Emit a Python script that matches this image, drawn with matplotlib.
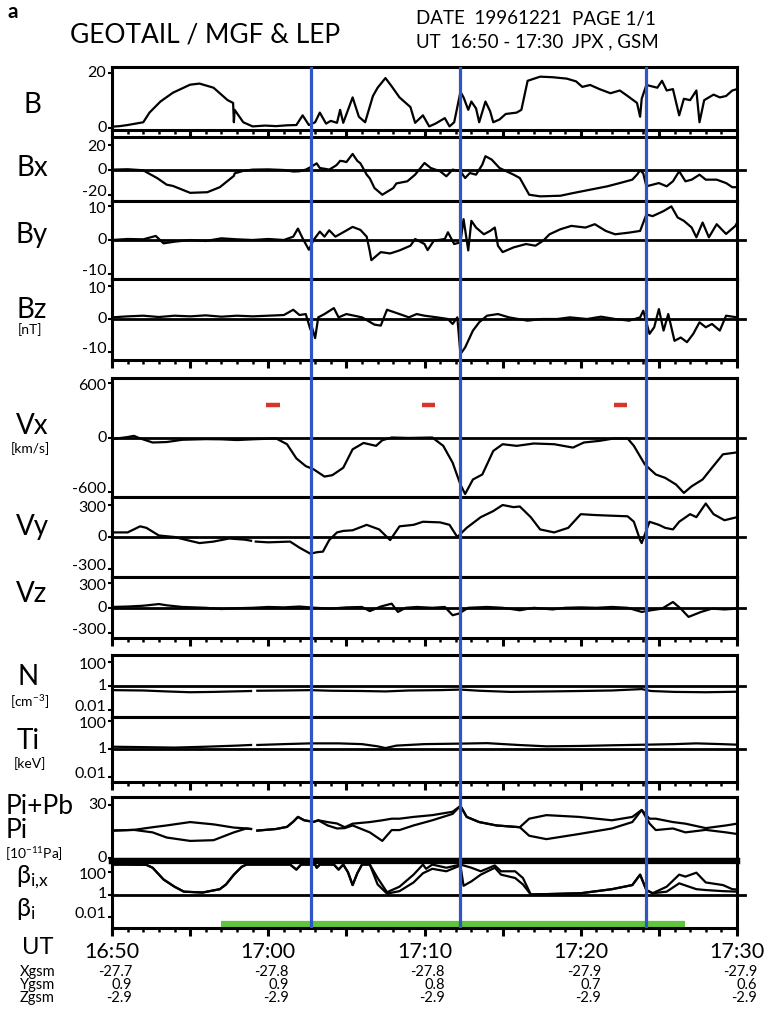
import numpy as np
import matplotlib.pyplot as plt
from matplotlib.ticker import MultipleLocator, FixedLocator, NullFormatter
import matplotlib.transforms as mtransforms

plt.rcParams['font.family'] = ['Lato', 'DejaVu Sans']
plt.rcParams['mathtext.fontset'] = 'custom'
plt.rcParams['mathtext.rm'] = 'Lato'
plt.rcParams['mathtext.it'] = 'Lato'

# time is in minutes after 16:50 UT
b_pts = [(0, 0.4), (0.5, 0.6), (1.0, 1.0), (1.5, 1.5), (2.0, 2.0), (2.4, 5.5), (3.1, 9.5),
         (3.9, 12.7), (5.0, 15.6), (5.6, 16.0), (6.5, 14.5), (7.4, 10.0), (7.75, 9.0),
         (7.8, 2.0), (7.85, 6.5), (8.4, 2.0), (9.0, 0.5), (9.8, 0.8), (10.5, 0.6), (11.2, 0.9),
         (11.8, 1.0), (12.2, 4.5), (12.6, 1.0), (13.0, 2.0), (13.3, 5.5), (13.7, 1.5),
         (14.0, 2.5), (14.4, 1.8), (14.6, 6.5), (14.8, 1.8), (15.4, 11.0), (15.8, 4.0),
         (16.2, 2.0), (16.7, 11.5), (17.0, 14.5), (17.5, 18.0), (17.9, 15.0), (18.4, 11.0),
         (19.1, 7.5), (19.4, 1.8), (19.9, 4.5), (20.3, 0.5), (20.7, 1.5), (21.3, 3.5),
         (21.6, 0.5), (21.9, 2.0), (22.3, 13.0), (22.5, 11.0), (22.8, 6.5), (23.0, 9.5),
         (23.3, 7.0), (23.5, 2.0), (23.9, 9.5), (24.2, 6.0), (24.4, 2.0), (24.8, 3.0),
         (25.2, 5.0), (25.9, 5.5), (26.2, 6.5), (26.6, 17.0), (27.4, 18.5), (28.2, 18.3),
         (29.1, 17.8), (29.7, 16.8), (30.1, 14.8), (30.6, 15.5), (31.2, 14.0), (31.9, 12.5),
         (32.5, 13.5), (33.0, 11.5), (33.6, 9.0), (33.8, 4.0), (33.9, 10.5), (34.2, 15.5),
         (34.9, 14.5), (35.2, 17.0), (35.5, 13.5), (35.9, 14.0), (36.3, 4.5), (36.6, 10.5),
         (37.0, 10.0), (37.4, 13.5), (37.6, 2.0), (37.9, 10.0), (38.5, 12.0), (38.9, 11.0),
         (39.3, 11.5), (39.7, 13.5), (40.0, 14.0)]

bx_pts = [(0, 0), (1, 0.3), (2, -0.5), (2.2, -2), (2.9, -6.8), (3.5, -12), (3.9, -13),
          (5.0, -18.5), (6.1, -18), (6.5, -16), (6.9, -14), (7.8, -5), (7.85, -3), (8.4, -1),
          (9, 0), (10, 0.2), (11, -0.3), (11.6, -1.5), (12.0, -1.3), (12.4, 0), (12.7, 1.9),
          (13.1, 5), (13.3, 1.3), (13.7, 0.5), (13.9, 0), (14.3, 3), (14.4, 4), (14.6, 7),
          (14.8, 6.7), (15.0, 6), (15.4, 12.5), (15.7, 7), (15.9, 5), (16.3, -4), (16.5, -7),
          (16.8, -14.7), (17.3, -20), (18.0, -14.7), (18.2, -11), (18.9, -9.3), (19.4, -4),
          (20.0, 5.3), (20.4, 1.3), (21.0, -1.3), (21.4, -5.3), (21.8, 0), (22.3, -1.3),
          (22.6, -6.7), (22.9, -2.7), (23.3, -4), (23.7, 4), (23.9, 10.7), (24.3, 8),
          (24.8, 1.3), (25.7, -4), (26.1, -6.7), (26.7, -20), (27.4, -21.3), (28.7, -20.8),
          (29.5, -18.7), (30.6, -16), (31.7, -13.3), (32.5, -10.7), (33.3, -8), (33.6, -4),
          (33.8, -0.5), (34.0, -3), (34.2, -13.3), (34.6, -12), (35.0, -10.7), (35.5, -13.3),
          (35.9, -9.3), (36.3, -1.3), (36.7, -9.3), (37.1, -8), (37.6, -4), (38.0, -8),
          (38.7, -8), (39.3, -10.7), (39.7, -14), (40, -14)]

by_pts = [(0, 0), (1, 0.3), (2, 0.2), (2.8, 1.2), (3.3, -1), (4, -0.5), (5, 0), (6, -0.3),
          (7, 0.5), (8, 0.2), (9, 0), (10, 0.3), (11, 0), (11.6, 1), (11.9, 3.4), (12.2, 0.5),
          (12.6, -2.9), (12.9, 0), (13.3, 2.5), (13.6, 1), (13.9, 2.9), (14.3, 1), (14.8, 2.3),
          (15.4, 3.9), (15.9, 3), (16.3, 1), (16.5, -3.4), (16.6, -6), (17.2, -3.6),
          (17.8, -4), (18.4, -3.1), (19.1, -1.7), (19.4, 0.3), (20.0, -1.2), (20.2, -3),
          (20.6, -0.2), (21.3, 0.3), (21.5, 2.3), (21.9, -1.2), (22.3, -0.7), (22.5, 6.2),
          (22.8, -3.1), (23.0, 5.7), (23.3, 3.7), (23.8, 1.7), (24.2, 2.7), (24.5, 3.7),
          (24.7, -1.7), (25.0, -3.6), (25.7, -2.2), (26.5, -1.2), (27.1, -1.7), (27.6, -0.2),
          (28.0, 1.7), (28.7, 3.2), (29.4, 4.2), (30.3, 3.7), (30.9, 4.7), (31.6, 2.7),
          (32.2, 1.7), (33.1, 2.2), (33.8, 2.7), (34.2, 7.6), (34.6, 7.1), (35.3, 8.6),
          (35.8, 10), (36.2, 6.7), (36.6, 5.7), (37.1, 3.7), (37.4, 0.8), (37.8, 5.2),
          (38.2, 0.8), (38.7, 4.7), (39.3, 1.8), (39.9, 4.2), (40, 5.1)]

bz_pts = [(0, 0.5), (1, 0.8), (2, 1), (3, 0.6), (4, 1), (5, 0.8), (6, 1.1), (7, 0.7), (8, 1),
          (9, 0.8), (10, 1), (11, 1.2), (11.6, 2.8), (12.0, 1.2), (12.4, 1.5), (12.7, -3.2),
          (12.8, -2.5), (13.0, -5.8), (13.2, 0.5), (13.6, 1.5), (14.2, 3.3), (14.5, 0.5),
          (15, 1.5), (16, 0.5), (16.8, -1.7), (17.2, -2), (17.6, 2.8), (18.4, 1.5), (19.0, 0.5),
          (19.5, 1.5), (20, 1), (20.8, 0.5), (21.5, 0), (21.8, -1.5), (22.1, 0.5),
          (22.3, -10.6), (22.6, -8.6), (23.1, -3.5), (23.5, -1), (24, 1), (24.7, 1.5),
          (25.4, 0.5), (26.6, -0.5), (27.5, 0), (28.5, 0), (29.3, 0.5), (30.4, 0), (31.3, 0.7),
          (32.2, 0), (33.1, -0.5), (33.8, 0.5), (34.0, 2.5), (34.4, -4.5), (34.7, -2.5),
          (35.0, 3), (35.3, -3.5), (35.6, 1.5), (36.0, -6.6), (36.4, -5.6), (36.8, -7),
          (37.2, -4.5), (37.6, -1), (38.0, -2.5), (38.4, -1.5), (38.9, -3.5), (39.3, 1),
          (40, 0.5)]

vx_pts = [(0, -18), (1.0, 5), (1.4, 18), (1.8, -10), (2.6, -55), (3.5, -50), (4.5, -25),
          (6, -18), (7, -20), (8, -28), (9, -20), (10.5, -10), (11.2, -74), (11.8, -230),
          (12.4, -315), (12.9, -350), (13.6, -430), (14.1, -415), (14.8, -333), (15.4, -130),
          (16.1, -60), (16.9, -92), (17.3, -30), (17.9, 0), (19, -5), (20.5, 0), (21.2, -92),
          (21.8, -277), (22.3, -518), (22.6, -622), (23.1, -462), (23.7, -407), (24.4, -148),
          (25.0, -74), (25.9, -92), (27.0, -66), (28.3, -74), (29.5, -111), (30.2, -55),
          (31.2, -37), (32.1, -11), (33.0, -11), (33.4, -92), (34.1, -296), (34.8, -407),
          (35.4, -444), (36.1, -518), (36.6, -610), (37.1, -537), (37.8, -462), (38.4, -333),
          (39.1, -185), (39.9, -166), (40, -166)]

vy_pts = [(0, 43), (1.0, 43), (1.8, 100), (2.2, 86), (3.0, 14), (4, 0), (4.8, -29), (5.6, -57),
          (6.5, -43), (7.5, -14), (8.5, -25), (8.9, -35), (8.95, np.nan), (9.2, -43), (10, -50),
          (11.4, -43), (12.0, -100), (12.7, -157), (13.1, -143), (13.5, -137), (13.9, -29),
          (14.4, 43), (14.8, 57), (15.4, 63), (16.3, 114), (17.1, 71), (17.8, -29),
          (18.4, 100), (19.3, 114), (19.9, 143), (21.0, 137), (21.6, 114), (22.1, 0),
          (22.7, 86), (23.6, 186), (24.4, 243), (25.0, 300), (25.7, 280), (26.1, 286),
          (26.8, 186), (27.4, 71), (28.3, 43), (29.2, 86), (30.0, 214), (30.9, 206),
          (31.9, 200), (33.0, 194), (33.4, 143), (33.8, -29), (33.9, -57), (34.4, 143),
          (35.0, 114), (35.4, 86), (35.9, 71), (36.3, 143), (37.0, 214), (37.4, 186),
          (38.0, 314), (38.5, 214), (39.2, 157), (40, 186)]

vz_pts = [(0, 10), (1, 15), (2, 25), (3, 45), (3.5, 30), (4.5, 10), (6, 0), (7, -15), (8, -5),
          (9, 0), (10, 10), (11, 5), (12, 15), (13, 0), (14, -10), (15, 5), (16, 10),
          (16.5, -40), (17.2, 15), (17.9, 50), (18.3, -50), (18.8, 0), (19.5, 10), (20.5, 0),
          (21.3, 10), (21.8, -90), (22.2, -70), (22.8, 0), (24, 10), (25, 0), (26.1, -30),
          (27, 0), (28.2, -20), (29, 0), (30, 5), (31, 0), (32, 10), (33, 0), (33.9, -50),
          (34.5, -30), (35.2, -10), (35.9, 70), (36.4, -10), (36.9, -110), (37.7, -50),
          (38.4, -10), (39.2, -20), (40, -10)]

n_pts = [(0, 0.45), (2, 0.42), (3.5, 0.35), (5, 0.3), (6.5, 0.32), (8.9, 0.38), (8.95, np.nan),
         (9.3, 0.4), (11, 0.42), (12.7, 0.45), (14, 0.4), (16, 0.38), (17.5, 0.35), (19, 0.42),
         (21, 0.45), (22.3, 0.5), (23.5, 0.4), (25.5, 0.32), (28, 0.35), (30, 0.38),
         (32, 0.42), (33.9, 0.55), (34.5, 0.38), (36, 0.32), (38, 0.3), (40, 0.33)]

ti_pts = [(0, 1.5), (2, 1.4), (4, 1.3), (6, 1.5), (8, 1.8), (8.9, 2.0), (8.95, np.nan),
          (9.3, 2.0), (11, 2.3), (12.7, 2.6), (14.5, 2.6), (16, 2.3), (17.0, 1.6), (17.5, 1.2),
          (18.2, 1.8), (20, 2.3), (22.3, 2.5), (24, 2.7), (26, 2.0), (27.8, 1.6), (30, 1.7),
          (32, 1.9), (34.2, 2.1), (36, 2.3), (37.4, 2.6), (39, 2.3), (40, 2.1)]

# pressures in 1e-11 Pa
pi_pts = [(0, 15.6), (1.4, 16), (2.6, 14.6), (3.5, 11.7), (5.0, 9.8), (6.5, 10.2), (7.8, 14.6),
          (8.6, 16.8), (8.9, 16.5), (8.95, np.nan), (9.3, 15.6), (10.5, 16.5), (11.2, 17.7),
          (11.6, 20.6), (11.9, 23.3), (12.3, 21.4), (12.9, 20.5), (13.2, 21.4), (13.8, 18.5),
          (14.4, 16.8), (14.9, 17), (15.4, 18.5), (16.5, 14.6), (17.3, 9.8), (17.9, 15.9),
          (18.4, 15.9), (19.3, 18.5), (20.5, 21.4), (21.8, 25), (22.3, 29.5), (22.7, 23.3),
          (23.5, 20.4), (24.6, 18.5), (26.1, 17.5), (26.7, 12.7), (27.8, 10.8), (29.9, 13.7),
          (32.0, 16.8), (33.3, 20.4), (33.9, 27.2), (34.4, 19.6), (34.8, 15.9), (35.9, 16.8),
          (36.7, 14.6), (38.0, 16), (39.3, 14.6), (40, 13.7)]

pipb_pts = [(0, 15.6), (1.4, 16), (2.6, 17.5), (3.5, 18.5), (5.0, 20.4), (6.5, 19.1),
            (7.8, 17.3), (8.6, 16.8), (8.9, 16.5), (8.95, np.nan), (9.3, 15.6), (10.5, 16.5),
            (11.2, 17.7), (11.6, 20.6), (11.9, 23.3), (12.3, 21.4), (12.9, 20.5), (13.2, 21.4),
            (13.8, 20.4), (14.4, 19.6), (14.9, 17.5), (15.4, 19.5), (16.5, 20.4), (17.3, 21.4),
            (17.9, 22.3), (18.4, 22.3), (19.3, 23.3), (20.5, 24.3), (21.8, 26.2), (22.3, 29.5),
            (22.7, 23.3), (23.5, 20.4), (24.6, 18.5), (26.1, 17.5), (26.7, 22.3), (27.8, 24.3),
            (29.9, 23.3), (32.0, 21.4), (33.3, 23.3), (33.9, 27.2), (34.4, 22.3), (34.8, 22.3),
            (35.9, 20.4), (36.7, 19.5), (38.0, 17), (39.3, 18.5), (40, 19.5)]

betax_pts = [(0, 480), (1, 480), (2.2, 450), (2.6, 250), (3.3, 22), (4.0, 5), (4.6, 1.8),
             (5.8, 1.5), (6.9, 3), (7.3, 8), (7.8, 60), (8.3, 300), (8.6, 480), (10, 480),
             (11.4, 480), (11.8, 170), (12.1, 480), (13.0, 480), (13.1, 250), (13.3, 480),
             (14.2, 480), (14.5, 170), (14.8, 480), (15.1, 100), (15.4, 7), (15.7, 80),
             (16.0, 480), (16.5, 480), (17.0, 30), (17.6, 1.6), (18.4, 5), (19.3, 60),
             (19.9, 480), (20.1, 200), (20.5, 480), (21.4, 250), (22.3, 480), (23.0, 250),
             (23.6, 120), (24.5, 400), (24.9, 120), (25.8, 120), (26.3, 30), (26.8, 1),
             (28, 1.1), (30, 1.3), (32, 3), (33.3, 7), (33.8, 60), (34.2, 2.5), (34.6, 1.3),
             (35.5, 5), (36.3, 60), (36.7, 40), (37.4, 90), (38.0, 12), (39.1, 7), (39.7, 3),
             (40, 2.8)]

beta_pts = [(0, 480), (1, 480), (2.2, 450), (2.6, 250), (3.3, 22), (4.0, 5), (4.6, 1.8),
            (5.8, 1.5), (6.9, 3), (7.3, 8), (7.8, 60), (8.3, 300), (8.6, 480), (10, 480),
            (11.4, 480), (11.8, 170), (12.1, 480), (13.0, 480), (13.1, 250), (13.3, 480),
            (14.2, 480), (14.5, 170), (14.8, 480), (15.1, 100), (15.4, 7), (15.7, 80),
            (16.0, 480), (16.5, 480), (17.0, 8), (17.6, 1.2), (18.4, 2), (19.3, 12),
            (19.9, 80), (20.5, 200), (21.4, 120), (22.3, 400), (22.5, 6), (23.0, 15),
            (23.6, 60), (24.5, 250), (24.9, 60), (25.8, 30), (26.3, 8), (26.8, 1), (28, 1.1),
            (30, 1.3), (32, 3), (33.3, 7), (33.8, 60), (34.2, 2.5), (34.6, 1.3), (35.5, 1.8),
            (36.3, 10), (37.4, 3), (38.0, 2.5), (39.1, 2), (40, 1.8)]

event_times = [12.75, 22.25, 34.15]            # blue lines
flow_marks = [10.3, 20.25, 32.55]              # red dashes in Vx
flow_mark_level = 355
green_span = (7.0, 36.7)

ut_labels = ['16:50', '17:00', '17:10', '17:20', '17:30']
xgsm = ['-27.7', '-27.8', '-27.8', '-27.9', '-27.9']
ygsm = ['0.9', '0.9', '0.8', '0.7', '0.6']
zgsm = ['-2.9', '-2.9', '-2.9', '-2.9', '-2.9']

W, H = 768, 1015
X0, X1 = 112, 737
fig = plt.figure(figsize=(W / 100, H / 100), dpi=100)


def box(top, bottom):
    return [X0 / W, 1 - bottom / H, (X1 - X0) / W, (bottom - top) / H]


def ftext(x, y, s, **kw):
    kw.setdefault('va', 'center')
    fig.text(x / W, 1 - y / H, s, **kw)


def split(pts):
    t, v = zip(*pts)
    return np.array(t, float), np.array(v, float)


# panel: top px, bottom px, ylim, ticks, tick labels, reference line, log
panels = {
    'B':    (67, 130, (-0.8, 22), [0, 20], ['0', '20'], None, False),
    'Bx':   (137, 201, (-25, 26), [-20, 0, 20], ['-20', '0', '20'], 0, False),
    'By':   (201, 279, (-11.6, 11.6), [-10, 0, 10], ['-10', '0', '10'], 0, False),
    'Bz':   (279, 360, (-12.4, 12.1), [-10, 0, 10], ['-10', '0', '10'], 0, False),
    'Vx':   (378, 497, (-655, 655), [-600, 0, 600], ['-600', '0', '600'], 0, False),
    'Vy':   (497, 577, (-375, 375), [-300, 0, 300], ['-300', '0', '300'], 0, False),
    'Vz':   (577, 638, (-365, 372), [-300, 0, 300], ['-300', '0', '300'], 0, False),
    'N':    (655, 717, (0.0025, 400), [0.01, 1, 100], ['0.01', '1', '100'], 1, True),
    'Ti':   (717, 782, (0.0045, 200), [0.01, 1, 100], ['0.01', '1', '100'], 1, True),
    'Pi':   (797, 861, (-1.5, 34.5), [0, 30], ['0', '30'], None, False),
    'beta': (861, 928, (1e-3, 1e3), [0.01, 1, 100], ['0.01', '1', '100'], 1, True),
}

series = {
    'B': [b_pts], 'Bx': [bx_pts], 'By': [by_pts], 'Bz': [bz_pts],
    'Vx': [vx_pts], 'Vy': [vy_pts], 'Vz': [vz_pts],
    'N': [n_pts], 'Ti': [ti_pts], 'Pi': [pipb_pts, pi_pts], 'beta': [betax_pts, beta_pts],
}

axes = {}
for name in panels:
    top, bot, ylim, yt, ytl, ref, log = panels[name]
    ax = fig.add_axes(box(top, bot))
    axes[name] = ax
    if log:
        ax.set_yscale('log')
    ax.set_xlim(0, 40)
    ax.set_ylim(*ylim)
    for pts in series[name]:
        t, v = split(pts)
        ax.plot(t, v, color='black', lw=1.6, solid_joinstyle='round')
    if ref is not None:
        ax.axhline(ref, xmin=0, xmax=1.012, color='black', lw=2.0, clip_on=False)
    ax.yaxis.set_major_locator(FixedLocator(yt))
    ax.yaxis.set_minor_locator(FixedLocator([]))
    ax.yaxis.set_major_formatter(NullFormatter())
    ax.yaxis.set_minor_formatter(NullFormatter())
    # y labels drawn by hand so the outer ones can sit slightly inside the panel
    for j, (val, lab) in enumerate(zip(yt, ytl)):
        dy = 0
        if len(yt) == 3 and j == 0:
            dy = 2
        elif len(yt) == 3 and j == 2:
            dy = -2
        ax.annotate(lab, xy=(0, val), xycoords=('axes fraction', 'data'),
                    xytext=(-4, dy), textcoords='offset points',
                    ha='right', va='center', fontsize=11.5)
    ax.xaxis.set_major_locator(MultipleLocator(5))
    ax.xaxis.set_minor_locator(MultipleLocator(1))
    ax.tick_params(axis='y', direction='out', length=3, width=1.5)
    ax.tick_params(axis='x', which='major', direction='out', length=6, width=2.2)
    ax.tick_params(axis='x', which='minor', direction='out', length=3, width=1.8)
    for s in ax.spines.values():
        s.set_linewidth(2.2)
    if name != 'beta':
        ax.xaxis.set_major_formatter(NullFormatter())

axes['Pi'].spines['bottom'].set_linewidth(4.5)
axes['beta'].spines['top'].set_linewidth(4.5)

# red dashes in Vx panel
for tm in flow_marks:
    axes['Vx'].hlines(flow_mark_level, tm - 0.42, tm + 0.42, color='#d8352a', lw=3.2)

# green interval bar at bottom of beta panel
trans = mtransforms.blended_transform_factory(axes['beta'].transData, axes['beta'].transAxes)
axes['beta'].plot(green_span, [0.06, 0.06], color='#62c43c', lw=4.5, transform=trans,
                  solid_capstyle='butt', zorder=1)

# bottom axis labels
bax = axes['beta']
bax.set_xticks(range(0, 41, 5))
bax.set_xticklabels([ut_labels[k // 2] if k % 2 == 0 else '' for k in range(9)],
                    fontsize=15.5)
bax.tick_params(axis='x', which='major', pad=4)
tr = mtransforms.blended_transform_factory(bax.transData, fig.transFigure)
for k, tval in enumerate(range(0, 41, 10)):
    for y, vals in [(972, xgsm), (985, ygsm), (998, zgsm)]:
        bax.text(tval + 1.3, 1 - y / H, vals[k], transform=tr, ha='right', va='center',
                 fontsize=10.5)

# blue event lines spanning all panels
ov = fig.add_axes(box(67, 928), facecolor='none')
ov.set_xlim(0, 40)
ov.set_ylim(0, 1)
ov.axis('off')
for te in event_times:
    ov.axvline(te, color='#2f56c6', lw=2.3)

# header
ftext(8, 12, 'a', fontsize=15, fontweight='bold', ha='left')
ftext(70, 35, 'GEOTAIL / MGF & LEP', fontsize=19, ha='left')
ftext(416, 19, 'DATE  19961221', fontsize=13.5, ha='left')
ftext(416, 42, 'UT  16:50 - 17:30', fontsize=13.5, ha='left')
ftext(572, 19, 'PAGE 1/1', fontsize=13.5, ha='left')
ftext(572, 42, 'JPX , GSM', fontsize=13.5, ha='left')

# panel labels
big = 20
ftext(32, 105, 'B', fontsize=big, ha='center')
ftext(32, 168, 'Bx', fontsize=big, ha='center')
ftext(32, 235, 'By', fontsize=big, ha='center')
ftext(32, 310, 'Bz', fontsize=big, ha='center')
ftext(30, 330, '[nT]', fontsize=10, ha='center')
ftext(32, 426, 'Vx', fontsize=big, ha='center')
ftext(30, 449, '[km/s]', fontsize=10, ha='center')
ftext(32, 527, 'Vy', fontsize=big, ha='center')
ftext(32, 594, 'Vz', fontsize=big, ha='center')
ftext(28, 677, 'N', fontsize=big, ha='center')
ftext(30, 702, '[cm$^{-3}$]', fontsize=10, ha='center')
ftext(28, 741, 'Ti', fontsize=big, ha='center')
ftext(30, 764, '[keV]', fontsize=10, ha='center')
ftext(6, 806, 'Pi+Pb', fontsize=19, ha='left')
ftext(6, 831, 'Pi', fontsize=19, ha='left')
ftext(5, 854, '[10$^{-11}$Pa]', fontsize=10, ha='left')
ftext(16, 877, r'β$_{\mathrm{i{,}x}}$', fontsize=18, ha='left')
ftext(16, 909, r'β$_{\mathrm{i}}$', fontsize=18, ha='left')
ftext(22, 948, 'UT', fontsize=17, ha='left')
ftext(20, 972, 'Xgsm', fontsize=10.5, ha='left')
ftext(20, 985, 'Ygsm', fontsize=10.5, ha='left')
ftext(20, 998, 'Zgsm', fontsize=10.5, ha='left')

fig.savefig('out.png', dpi=100)
